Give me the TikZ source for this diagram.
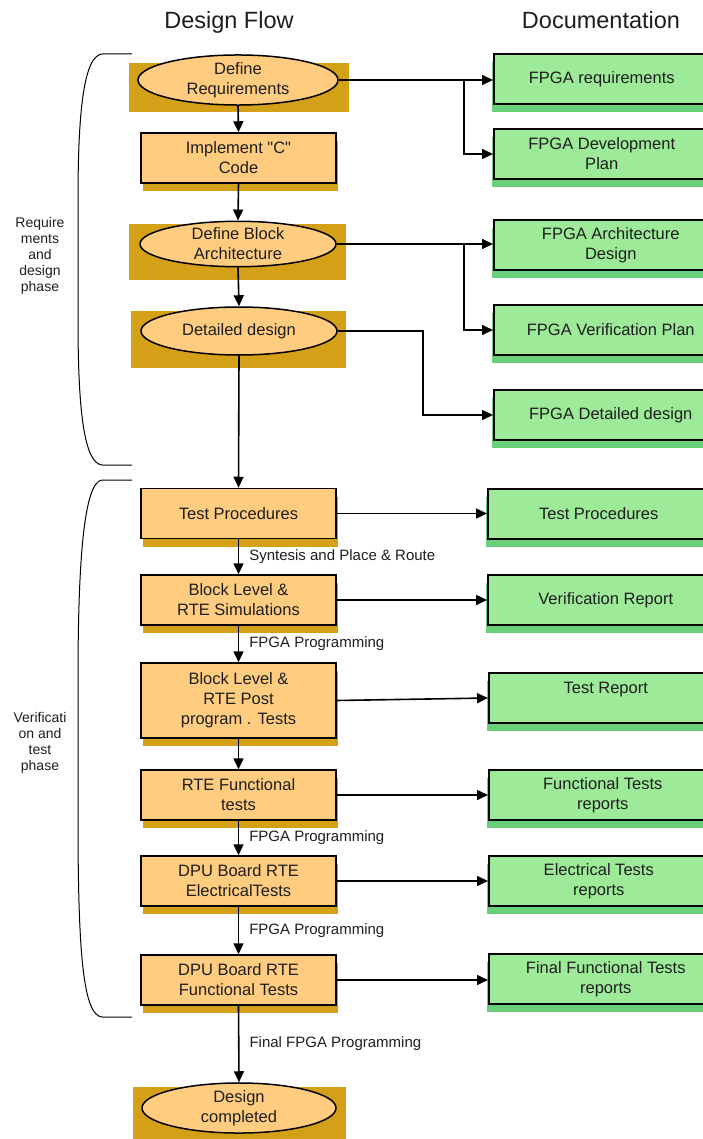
\documentclass[tikz,border=0pt]{standalone}
\usepackage{fontspec}
\setmainfont{Liberation Sans}[Ligatures=TeXOff]
\usetikzlibrary{arrows.meta,shapes.geometric,shadows,calc}
\definecolor{boxorange}{HTML}{FFCC80}
\definecolor{boxgold}{HTML}{D4A017}
\definecolor{docgreen}{HTML}{9DEB98}
\definecolor{docshade}{HTML}{69CF78}
\definecolor{inktext}{HTML}{1E1E1E}
\begin{document}
\begin{tikzpicture}[x=1pt,y=-1pt,
  every node/.style={text=inktext},
  boxfont/.style={font=\fontsize{16.5}{20}\selectfont},
  flowbox/.style={boxfont, rectangle, draw=black, line width=1.5pt, fill=boxorange,
    minimum width=195pt, minimum height=50pt, inner sep=0pt, align=center,
    drop shadow={shadow xshift=1.5pt, shadow yshift=-8pt, fill=boxgold, opacity=1}},
  goldbg/.style={rectangle, fill=boxgold, inner sep=0pt},
  ellnode/.style={boxfont, ellipse, draw=black, line width=1.5pt, fill=boxorange,
    inner sep=0pt, align=center},
  docbox/.style={boxfont, rectangle, draw=black, line width=1.5pt, fill=docgreen,
    minimum height=50pt, inner sep=0pt, align=center, anchor=west,
    drop shadow={shadow xshift=-2pt, shadow yshift=-8pt, fill=docshade, opacity=1}},
  conn/.style={line width=1.6pt, draw=black},
  arr/.style={conn, -{Triangle[length=11pt,width=10pt]}},
  steplabel/.style={font=\fontsize{15}{18}\selectfont, anchor=west, inner sep=0pt, xshift=10pt},
  sidelabel/.style={font=\fontsize{14}{16}\selectfont, align=center, inner sep=0pt},
  titlelabel/.style={font=\fontsize{23.5}{28}\selectfont, inner sep=0pt},
  phasebrace/.style={line width=1pt, draw=black}
]
\clip (0,0) rectangle (703,1139);

% column titles
\node[titlelabel] (ttlflow) at (229,22) {Design Flow};
\node[titlelabel] (ttldoc) at (601,20) {Documentation};

% design flow column
\node[goldbg, minimum width=220pt, minimum height=49pt] (reqbg) at (239,87.5) {};
\node[ellnode, minimum width=200pt, minimum height=42pt] (req) at (238,80) {Define\\Requirements};
\node[flowbox] (impl) at (238.5,158) {Implement "C"\\Code};
\node[goldbg, minimum width=217pt, minimum height=56pt] (archbg) at (237.5,252) {};
\node[ellnode, minimum width=196pt, minimum height=42pt] (arch) at (238,244) {Define Block\\Architecture};
\node[goldbg, minimum width=215pt, minimum height=57pt] (detbg) at (238.5,339.5) {};
\node[ellnode, minimum width=196pt, minimum height=48pt] (det) at (239,331) {Detailed design};

\node[flowbox] (testp) at (238.5,513.5) {Test Procedures};
\node[flowbox] (bsim) at (238.5,600) {Block Level \&\\RTE Simulations};
\node[flowbox, minimum height=75pt] (bpost) at (238.5,700.5) {Block Level \&\\RTE Post\\program . Tests};
\node[flowbox] (rtef) at (238.5,795) {RTE Functional\\tests};
\node[flowbox] (dpue) at (238.5,881) {DPU Board RTE\\ElectricalTests};
\node[flowbox] (dpuf) at (238.5,980) {DPU Board RTE\\Functional Tests};
\node[goldbg, minimum width=213pt, minimum height=52pt] (donebg) at (239.5,1113) {};
\node[ellnode, minimum width=194pt, minimum height=46pt] (done) at (239,1108) {Design\\completed};

% documentation column
\node[docbox, minimum width=216pt] (dreq) at (493,79) {FPGA requirements};
\node[docbox, minimum width=216pt] (dplan) at (493,154) {FPGA Development\\Plan};
\node[docbox, minimum width=234pt] (darch) at (493,245) {FPGA Architecture\\Design};
\node[docbox, minimum width=234pt] (dver) at (493,330) {FPGA Verification Plan};
\node[docbox, minimum width=234pt] (ddet) at (493,415) {FPGA Detailed design};
\node[docbox, minimum width=222pt] (dtest) at (487,514) {Test Procedures};
\node[docbox, minimum width=236pt] (dvrep) at (487,600) {Verification Report};
\node[docbox, minimum width=234pt] (dtrep) at (488,698) {Test Report\\\mbox{}};
\node[docbox, minimum width=228pt] (dfunc) at (488,795) {Functional Tests\\reports};
\node[docbox, minimum width=220pt] (delec) at (488,881) {Electrical Tests\\reports};
\node[docbox, minimum width=234pt] (dfinal) at (488,979) {Final Functional Tests\\reports};

% flow arrows
\draw[arr] (req.south) -- (impl.north);
\draw[arr] (impl.south) -- (arch.north);
\draw[arr] (arch.south) -- (det.north);
\draw[arr] (det.south) -- (testp.north);
\draw[arr] (testp.south) -- node[steplabel] {Syntesis and Place \& Route} (bsim.north);
\draw[arr] (bsim.south) -- node[steplabel] {FPGA Programming} (bpost.north);
\draw[arr] (bpost.south) -- (rtef.north);
\draw[arr] (rtef.south) -- node[steplabel] {FPGA Programming} (dpue.north);
\draw[arr] (dpue.south) -- node[steplabel] {FPGA Programming} (dpuf.north);
\draw[arr] (dpuf.south) -- node[steplabel] {Final FPGA Programming} (done.north);

% documentation arrows
\coordinate (br1) at (464,80);
\coordinate (br2) at (464,244);
\coordinate (bend3) at (423,331);
\draw[arr] (req.east) -- (req.east -| dreq.west);
\draw[arr] (br1) |- (dplan.west);
\draw[arr] (arch.east) -- (arch.east -| darch.west);
\draw[arr] (br2) |- (dver.west);
\draw[arr] (det.east) -- (bend3) |- (ddet.west);
\draw[arr] (testp.east) -- (testp.east -| dtest.west);
\draw[arr] (bsim.east) -- (bsim.east -| dvrep.west);
\draw[arr] (bpost.east) -- (dtrep.west);
\draw[arr] (rtef.east) -- (rtef.east -| dfunc.west);
\draw[arr] (dpue.east) -- (dpue.east -| delec.west);
\draw[arr] (dpuf.east) -- (dpuf.east -| dfinal.west);

% phase brackets
\draw[phasebrace] (132,54) -- (102,54) .. controls (84,56) and (78,110) .. (78,200)
  -- (78,320) .. controls (78,410) and (84,463) .. (102,465) -- (132,465);
\draw[phasebrace] (132,480) -- (102,480) .. controls (84,482) and (78,560) .. (78,680)
  -- (78,820) .. controls (78,960) and (84,1015) .. (102,1017) -- (132,1017);
\node[sidelabel] (phase1) at (40,256) {Require\\ments\\and\\design\\phase};
\node[sidelabel] (phase2) at (40,742.5) {Verificati\\on and\\test\\phase};
\end{tikzpicture}
\end{document}
